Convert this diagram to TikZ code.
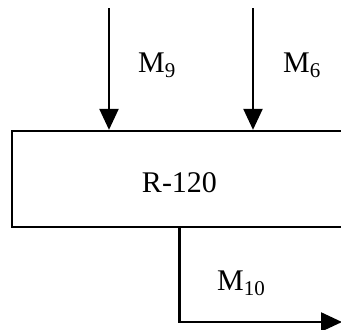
\documentclass[tikz,border=0pt]{standalone}
\usepackage{fontspec}
\setmainfont{Liberation Serif}
\usetikzlibrary{arrows.meta, positioning}

\begin{document}
\begin{tikzpicture}[
    x=1pt, y=-1pt,
    every node/.style={font=\fontsize{30}{35}\selectfont, inner sep=0pt},
    unit/.style={draw, line width=2.3pt, minimum width=335pt, minimum height=96pt,
                 text height=26pt, text depth=0pt},
    lbl/.style={anchor=base west},
    flow/.style={-{Triangle[length=21pt,width=19pt]}, line width=2.3pt}
  ]
  \useasboundingbox (0,0) rectangle (341,330);

  % reactor block
  \node[unit] (r120) at (179.5,179) {R-120};

  % feed streams
  \coordinate (in9) at (109,8);
  \coordinate (in6) at (253,8);
  \draw[flow] (in9) -- (in9 |- r120.north);
  \draw[flow] (in6) -- (in6 |- r120.north);
  \node[lbl] (m9) at (138,72) {M\textsubscript{9}};
  \node[lbl] (m6) at (283,72) {M\textsubscript{6}};

  % product stream
  \coordinate (out) at (342,322);
  \draw[flow] (r120.south) |- (out);
  \node[lbl] (m10) at (217,290) {M\textsubscript{10}};
\end{tikzpicture}
\end{document}
